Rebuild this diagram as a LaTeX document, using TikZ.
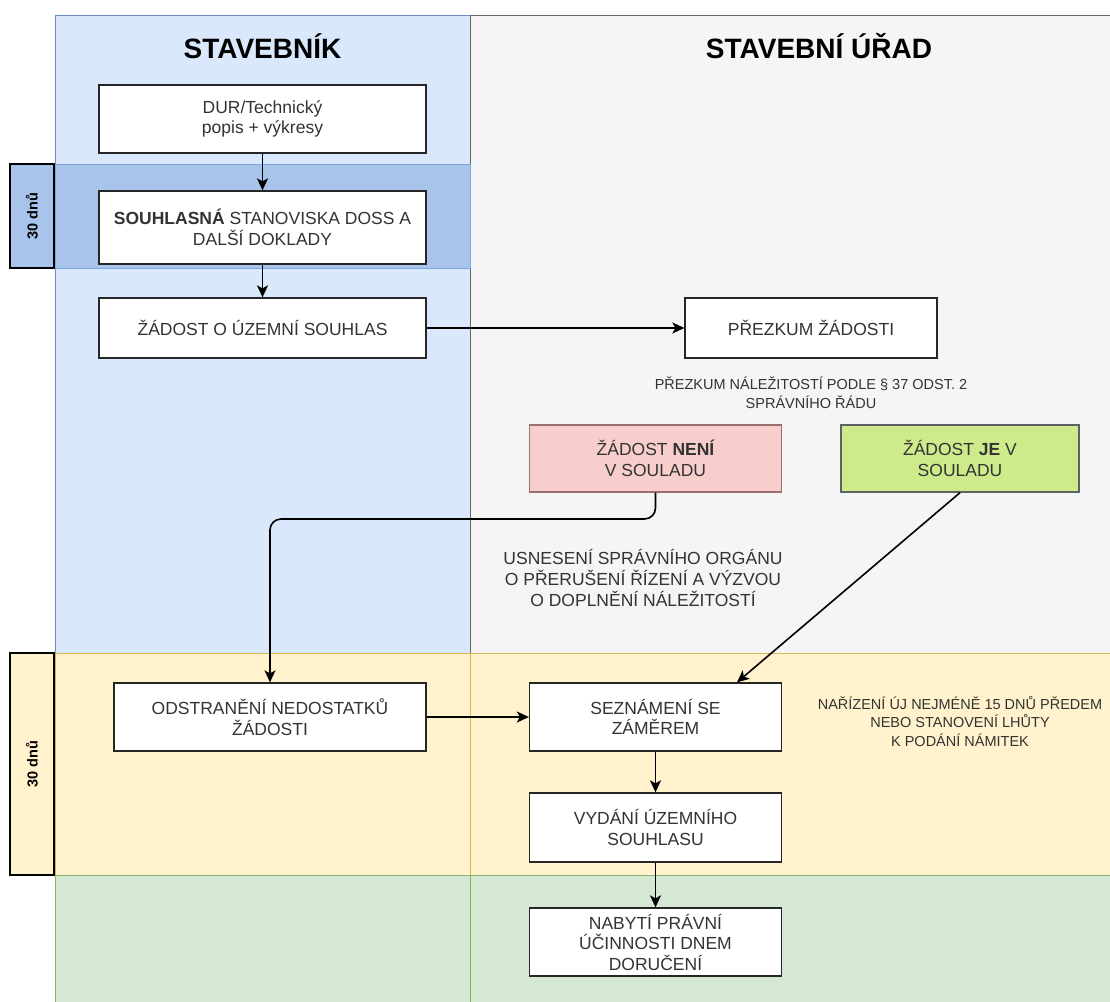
\documentclass[tikz,border=0pt]{standalone}
\usepackage{fontspec}
\setmainfont{Liberation Sans}
\usetikzlibrary{arrows.meta,calc}
\definecolor{laneblue}{HTML}{DAE8FC}
\definecolor{laneblueline}{HTML}{6C8EBF}
\definecolor{bandblue}{HTML}{A9C4EB}
\definecolor{bandblueline}{HTML}{7EA6E0}
\definecolor{lanegray}{HTML}{F5F5F5}
\definecolor{lanegrayline}{HTML}{666666}
\definecolor{bandyellow}{HTML}{FFF2CC}
\definecolor{bandyellowline}{HTML}{D6B656}
\definecolor{bandgreen}{HTML}{D5E8D4}
\definecolor{bandgreenline}{HTML}{82B366}
\definecolor{redfill}{HTML}{F8CECC}
\definecolor{redline}{HTML}{B85450}
\definecolor{limefill}{HTML}{CDEB8B}
\definecolor{limeline}{HTML}{36393D}
\definecolor{txt}{HTML}{333333}
\begin{document}
\begin{tikzpicture}[x=1pt,y=-1pt,
  box/.style 2 args={draw=black!85, line width=1.3pt, fill=white, text=txt,
    font=\fontsize{17.5}{20.5}\selectfont, align=center, inner sep=0pt,
    minimum width=#1, minimum height=#2},
  header/.style={font=\fontsize{28}{32}\selectfont\bfseries, text=black},
  note/.style={text=txt, align=center, inner sep=0pt},
  days/.style={draw=black, line width=1.2pt, rotate=90, inner sep=0pt,
    font=\fontsize{14.5}{16}\selectfont\bfseries, text=black},
  arr/.style={draw=black, line width=1.6pt, -{Stealth[length=12pt,width=11pt,inset=3pt]}}
]
\useasboundingbox (0,0) rectangle (1110,1001);
\fill[white] (0,0) rectangle (1110,1001);

% lanes
\draw[fill=laneblue, draw=laneblueline, line width=1pt] (55,15) rectangle (470,653);
\draw[fill=lanegray, draw=lanegrayline, line width=1pt] (470,15) rectangle (1125,653);
\draw[fill=bandblue, draw=bandblueline, line width=1pt] (55,164) rectangle (470,268);
\draw[fill=bandyellow, draw=bandyellowline, line width=1pt] (55,653) rectangle (1125,875);
\draw[draw=bandyellowline, line width=1pt] (470,653) -- (470,875);
\draw[fill=bandgreen, draw=bandgreenline, line width=1pt] (55,875) rectangle (1125,1015);
\draw[draw=bandgreenline, line width=1pt] (470,875) -- (470,1015);

% day markers
\node[days, fill=bandblue, minimum width=104, minimum height=44] (d1) at (32,216) {30 dnů};
\node[days, fill=bandyellow, minimum width=222, minimum height=44] (d2) at (32,764) {30 dnů};

% headers
\node[header] (h1) at (262.5,46) {STAVEBNÍK};
\node[header] (h2) at (819,46) {STAVEBNÍ ÚŘAD};

% boxes
\node[box={327}{68}] (dur) at (262.5,119) {DUR/Technický\\popis + výkresy};
\node[box={327}{73}] (souh) at (262.5,227.5) {{\bfseries SOUHLASNÁ} STANOVISKA DOSS A\\DALŠÍ DOKLADY};
\node[box={327}{60}] (zad) at (262.5,328) {ŽÁDOST O ÚZEMNÍ SOUHLAS};
\node[box={252}{60}] (prez) at (811,328) {PŘEZKUM ŽÁDOSTI};
\node[box={252}{67}, fill=redfill, draw=redline!60!black!70] (neni) at (655.5,458.5) {ŽÁDOST {\bfseries NENÍ}\\V SOULADU};
\node[box={238}{67}, fill=limefill, draw=limeline!80] (je) at (960,458.5) {ŽÁDOST {\bfseries JE} V\\SOULADU};
\node[box={312}{68}] (odst) at (270,717) {ODSTRANĚNÍ NEDOSTATKŮ\\ŽÁDOSTI};
\node[box={252}{68}] (sezn) at (655.5,717) {SEZNÁMENÍ SE\\ZÁMĚREM};
\node[box={252}{69}] (vyd) at (655.5,827.5) {VYDÁNÍ ÚZEMNÍHO\\SOUHLASU};
\node[box={252}{68}] (nab) at (655.5,942) {NABYTÍ PRÁVNÍ\\ÚČINNOSTI DNEM\\DORUČENÍ};

% notes
\node[note, font=\fontsize{14.5}{19}\selectfont] (n1) at (811,392.5) {PŘEZKUM NÁLEŽITOSTÍ PODLE § 37 ODST. 2\\SPRÁVNÍHO ŘÁDU};
\node[note, font=\fontsize{17.5}{21}\selectfont] (n2) at (643,578) {USNESENÍ SPRÁVNÍHO ORGÁNU\\O PŘERUŠENÍ ŘÍZENÍ A VÝZVOU\\O DOPLNĚNÍ NÁLEŽITOSTÍ};
\node[note, font=\fontsize{14.5}{18.5}\selectfont] (n3) at (960,721) {NAŘÍZENÍ ÚJ NEJMÉNĚ 15 DNŮ PŘEDEM\\NEBO STANOVENÍ LHŮTY\\K PODÁNÍ NÁMITEK};

% connectors
\draw[arr] (dur) -- (souh);
\draw[arr] (souh) -- (zad);
\draw[arr] (zad) -- (prez);
\coordinate (bend) at (270,519);
\draw[arr, rounded corners=11pt] (neni.south) |- (bend) -- (odst.north);
\draw[arr] (je.south) -- ([xshift=81.5pt]sezn.north);
\draw[arr] (odst) -- (sezn);
\draw[arr] (sezn) -- (vyd);
\draw[arr] (vyd) -- (nab);
\end{tikzpicture}
\end{document}
